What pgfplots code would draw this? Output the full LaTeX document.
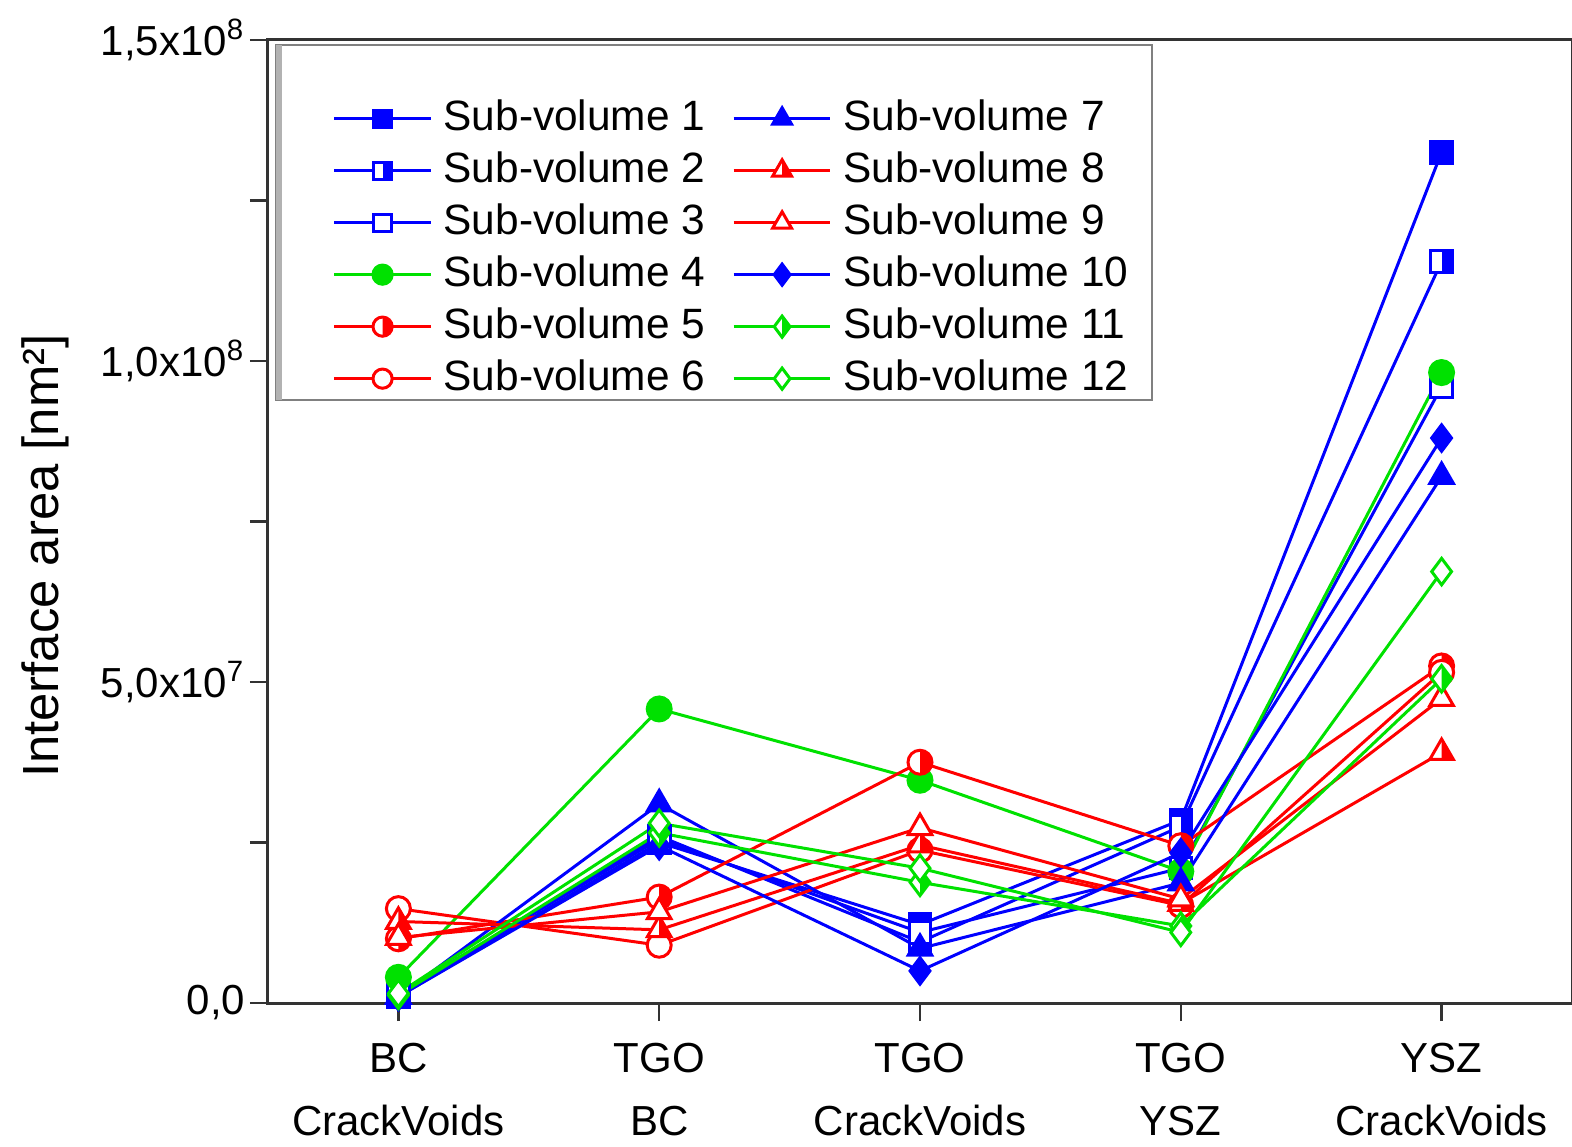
\documentclass[border=0pt]{standalone}
\usepackage{fontspec}
\setmainfont{Liberation Sans}
\usepackage{pgfplots}
\usepackage{pgfplotstable}
\pgfplotsset{compat=1.18}
\usetikzlibrary{plotmarks}

\definecolor{blu}{RGB}{0,0,255}
\definecolor{rd}{RGB}{255,0,0}
\definecolor{grn}{RGB}{0,225,0}

% half-filled marks (right half filled, left half white)
\def\hsqpath{\pgfpathrectangle{\pgfpoint{-\pgfplotmarksize}{-\pgfplotmarksize}}{\pgfpoint{2\pgfplotmarksize}{2\pgfplotmarksize}}}
\pgfdeclareplotmark{hsquare}{%
  \begin{pgfscope}\pgfsetfillcolor{white}\hsqpath\pgfusepath{fill}\end{pgfscope}%
  \pgfpathrectangle{\pgfpoint{0pt}{-\pgfplotmarksize}}{\pgfpoint{\pgfplotmarksize}{2\pgfplotmarksize}}\pgfusepath{fill}%
  \hsqpath\pgfusepath{stroke}}
\def\hcircpath{\pgfpathcircle{\pgfpointorigin}{\pgfplotmarksize}}
\pgfdeclareplotmark{hcircle}{%
  \begin{pgfscope}\pgfsetfillcolor{white}\hcircpath\pgfusepath{fill}\end{pgfscope}%
  \pgfpathmoveto{\pgfpoint{0pt}{\pgfplotmarksize}}\pgfpatharc{90}{-90}{\pgfplotmarksize}\pgfpathclose\pgfusepath{fill}%
  \hcircpath\pgfusepath{stroke}}
\def\htripath{\pgfpathmoveto{\pgfpointpolar{90}{\pgfplotmarksize}}\pgfpathlineto{\pgfpointpolar{210}{\pgfplotmarksize}}\pgfpathlineto{\pgfpointpolar{-30}{\pgfplotmarksize}}\pgfpathclose}
\pgfdeclareplotmark{htriangle}{%
  \begin{pgfscope}\pgfsetfillcolor{white}\htripath\pgfusepath{fill}\end{pgfscope}%
  \pgfpathmoveto{\pgfpointpolar{90}{\pgfplotmarksize}}\pgfpathlineto{\pgfpointpolar{-30}{\pgfplotmarksize}}\pgfpathlineto{\pgfpoint{0pt}{-0.5\pgfplotmarksize}}\pgfpathclose\pgfusepath{fill}%
  \htripath\pgfusepath{stroke}}
\def\hdiapath{\pgfpathmoveto{\pgfpoint{0pt}{\pgfplotmarksize}}\pgfpathlineto{\pgfpoint{0.75\pgfplotmarksize}{0pt}}\pgfpathlineto{\pgfpoint{0pt}{-\pgfplotmarksize}}\pgfpathlineto{\pgfpoint{-0.75\pgfplotmarksize}{0pt}}\pgfpathclose}
\pgfdeclareplotmark{hdiamond}{%
  \begin{pgfscope}\pgfsetfillcolor{white}\hdiapath\pgfusepath{fill}\end{pgfscope}%
  \pgfpathmoveto{\pgfpoint{0pt}{\pgfplotmarksize}}\pgfpathlineto{\pgfpoint{0.75\pgfplotmarksize}{0pt}}\pgfpathlineto{\pgfpoint{0pt}{-\pgfplotmarksize}}\pgfpathclose\pgfusepath{fill}%
  \hdiapath\pgfusepath{stroke}}

\pgfplotsset{
  sv/.style={line width=0.75pt},
  s1/.style={sv, blu, mark=square*, mark size=2.7pt, mark options={solid, fill=blu}},
  s2/.style={sv, blu, mark=hsquare, mark size=2.7pt, mark options={solid, fill=blu}},
  s3/.style={sv, blu, mark=square*, mark size=2.7pt, mark options={solid, fill=white}},
  s4/.style={sv, grn, mark=*, mark size=3pt, mark options={solid, fill=grn}},
  s5/.style={sv, rd, mark=hcircle, mark size=3pt, mark options={solid, fill=rd}},
  s6/.style={sv, rd, mark=*, mark size=3pt, mark options={solid, fill=white}},
  s7/.style={sv, blu, mark=triangle*, mark size=3.4pt, mark options={solid, fill=blu}},
  s8/.style={sv, rd, mark=htriangle, mark size=3.4pt, mark options={solid, fill=rd}},
  s9/.style={sv, rd, mark=triangle*, mark size=3.4pt, mark options={solid, fill=white}},
  s10/.style={sv, blu, mark=diamond*, mark size=3.3pt, mark options={solid, fill=blu}},
  s11/.style={sv, grn, mark=hdiamond, mark size=3.3pt, mark options={solid, fill=grn}},
  s12/.style={sv, grn, mark=diamond*, mark size=3.3pt, mark options={solid, fill=white}},
}

\pgfplotstableread{
x s1 s2 s3 s4 s5 s6 s7 s8 s9 s10 s11 s12
0 0.10e7 0.12e7 0.15e7 0.40e7 1.00e7 1.47e7 0.10e7 1.27e7 1.02e7 0.10e7 0.12e7 0.15e7
1 2.50e7 2.60e7 2.55e7 4.58e7 1.65e7 0.90e7 3.10e7 1.14e7 1.42e7 2.45e7 2.65e7 2.80e7
2 1.22e7 0.95e7 1.10e7 3.47e7 3.75e7 2.38e7 0.85e7 2.46e7 2.73e7 0.50e7 1.88e7 2.10e7
3 2.85e7 2.75e7 2.10e7 2.05e7 2.45e7 1.52e7 1.87e7 1.55e7 1.62e7 2.34e7 1.20e7 1.10e7
4 13.25e7 11.55e7 9.60e7 9.82e7 5.25e7 5.15e7 8.20e7 3.90e7 4.74e7 8.80e7 5.05e7 6.72e7
}\data

\begin{document}
\begin{tikzpicture}
\begin{axis}[
  scale only axis, width=326pt, height=240.75pt,
  xmin=-0.5, xmax=4.5, ymin=0, ymax=1.5e8,
  xtick={0,1,2,3,4},
  xticklabels={{BC\\CrackVoids},{TGO\\BC},{TGO\\CrackVoids},{TGO\\YSZ},{YSZ\\CrackVoids}},
  ytick={0,5e7,1e8,1.5e8},
  yticklabels={{0,0},{5,0x10\textsuperscript{7}},{1,0x10\textsuperscript{8}},{1,5x10\textsuperscript{8}}},
  minor ytick={2.5e7,7.5e7,1.25e8},
  scaled y ticks=false,
  tick align=outside, xtick pos=left, ytick pos=left,
  major tick length=4.5pt, minor tick length=4.5pt,
  tick label style={font=\fontsize{10.5}{15.75}\selectfont},
  xticklabel style={align=center, yshift=-2pt},
  yticklabel style={inner xsep=1pt},
  axis line style={line width=0.75pt, black!80},
  tick style={line width=0.6pt, black!80},
  ylabel={Interface area [nm²]},
  ylabel style={font=\fontsize{12.7}{14}\selectfont, at={(axis description cs:-0.171,0.464)}, anchor=center},
  legend columns=2,
  legend cell align=left,
  legend style={draw=none, fill=none, at={(rel axis cs:0.049,0.942)}, anchor=north west,
    inner sep=0pt, row sep=2pt, font=\fontsize{10.6}{12}\selectfont,
    nodes={inner xsep=1.5pt, inner ysep=0pt, text height=8.5pt, text depth=2.5pt},
    /tikz/every even column/.append style={column sep=5.25pt}},
  legend image code/.code={\draw[mark repeat=2,mark phase=2, every mark/.append style={scale=0.8}] plot coordinates {(0cm,0cm)(0.425cm,0cm)(0.85cm,0cm)}; \path (0cm,-3.8pt) (0.85cm+1.3pt,3.8pt);},
]
\coordinate (sw) at (rel axis cs:0,0);
\coordinate (ne) at (rel axis cs:1,1);
\draw[black!50, line width=0.5pt] (rel axis cs:0.0061,0.626) rectangle (rel axis cs:0.678,0.9948);
\fill[black!30] (rel axis cs:0.0061,0.626) rectangle ([xshift=1.6pt]rel axis cs:0.0061,0.9948);

\addplot[s1, forget plot] table[x=x, y=s1] {\data};
\addplot[s2, forget plot] table[x=x, y=s2] {\data};
\addplot[s3, forget plot] table[x=x, y=s3] {\data};
\addplot[s4, forget plot] table[x=x, y=s4] {\data};
\addplot[s5, forget plot] table[x=x, y=s5] {\data};
\addplot[s6, forget plot] table[x=x, y=s6] {\data};
\addplot[s7, forget plot] table[x=x, y=s7] {\data};
\addplot[s8, forget plot] table[x=x, y=s8] {\data};
\addplot[s9, forget plot] table[x=x, y=s9] {\data};
\addplot[s10, forget plot] table[x=x, y=s10] {\data};
\addplot[s11, forget plot] table[x=x, y=s11] {\data};
\addplot[s12, forget plot] table[x=x, y=s12] {\data};

\addlegendimage{s1} \addlegendentry{Sub-volume 1}
\addlegendimage{s7} \addlegendentry{Sub-volume 7}
\addlegendimage{s2} \addlegendentry{Sub-volume 2}
\addlegendimage{s8} \addlegendentry{Sub-volume 8}
\addlegendimage{s3} \addlegendentry{Sub-volume 3}
\addlegendimage{s9} \addlegendentry{Sub-volume 9}
\addlegendimage{s4} \addlegendentry{Sub-volume 4}
\addlegendimage{s10} \addlegendentry{Sub-volume 10}
\addlegendimage{s5} \addlegendentry{Sub-volume 5}
\addlegendimage{s11} \addlegendentry{Sub-volume 11}
\addlegendimage{s6} \addlegendentry{Sub-volume 6}
\addlegendimage{s12} \addlegendentry{Sub-volume 12}
\end{axis}
\pgfresetboundingbox
\useasboundingbox ([shift={(-67pt,-35.75pt)}]sw) rectangle ([shift={(0pt,10pt)}]ne);
\end{tikzpicture}
\end{document}
